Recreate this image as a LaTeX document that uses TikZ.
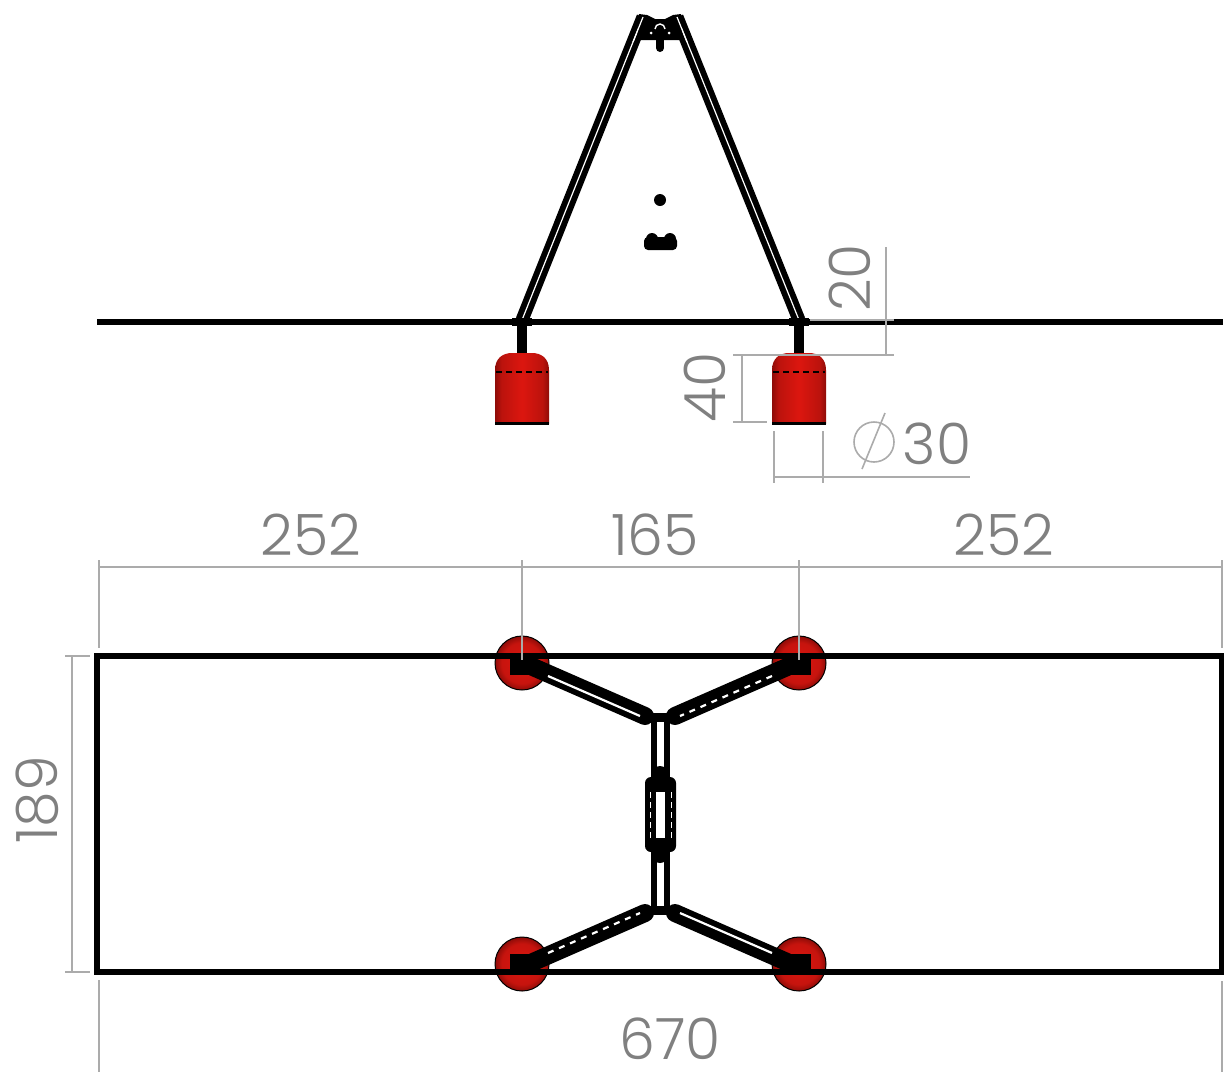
\documentclass[tikz,border=0pt]{standalone}
\usepackage{fontspec}
\setmainfont{Poppins Light}
\definecolor{dimgray}{HTML}{ABABAB}
\definecolor{dimtext}{HTML}{808080}
\definecolor{floatred}{HTML}{DC160F}
\definecolor{floatdark}{HTML}{8E0C08}
\pgfdeclarehorizontalshading{floatbody}{100bp}{color(0bp)=(floatdark); color(25bp)=(floatdark); color(31bp)=(floatred!85!black); color(50bp)=(floatred); color(69bp)=(floatred!85!black); color(75bp)=(floatdark); color(100bp)=(floatdark)}
\pgfdeclareradialshading{floatglobe}{\pgfpoint{0bp}{0bp}}{color(0bp)=(floatred); color(19bp)=(floatred!90!black); color(25bp)=(floatdark); color(50bp)=(floatdark)}
\tikzset{
  dimline/.style={draw=dimgray, line width=0.8pt},
  dimlabel/.style={text=dimtext, inner sep=0pt, font=\fontsize{28.5}{28.5}\selectfont},
  wireline/.style={draw=black, line width=2.8pt},
  tubeouter/.style={draw=black, line width=6.5pt},
  tubeinner/.style={draw=white, line width=0.6pt},
  armouter/.style={draw=black, line width=9pt},
  arminner/.style={draw=white, line width=1.1pt},
  floatbarrel/.style={shading=floatbody},
  floatball/.style={shading=floatglobe, draw=black, line width=0.5pt},
}
\begin{document}
\begin{tikzpicture}[x=0.5pt, y=-0.5pt]
    \useasboundingbox (0,0) rectangle (1224,1072);

    % front view
    \draw [wireline] (97,322) -- (1223,322);
    \draw [dimline] (810,320) -- (894,320);
    \draw [tubeouter] (522,320) -- (643,17);
    \draw [tubeinner] (522,320) -- (643,17);
    \draw [tubeouter] (799,320) -- (677,17);
    \draw [tubeinner] (799,320) -- (677,17);
    \fill [black] (639,14) -- (647,15) -- (655,19) -- (665,19) -- (673,15) -- (681,14) -- (683,40) -- (637,40) -- cycle;
    \draw [tubeinner] (643,17) -- (633,42);
    \draw [tubeinner] (677,17) -- (687,42);
    \draw [black, line width=4pt, line cap=round] (660,30) -- (660,48);
    \draw [white, line width=0.7pt] (655,29) arc (180:360:5);
    \fill [white] (651,33) circle (1.5);
    \fill [white] (669,33) circle (1.5);
    \fill [black] (660,200) circle (6);
    \fill [black, rounded corners=2pt] (644,237) rectangle (677,250);
    \fill [black] (652,239) circle (6);
    \fill [black] (670,239) circle (6);

    % stems and floats
    \fill [black] (512,318) rectangle (532,326);
    \fill [black] (789,318) rectangle (809,326);
    \draw [black, line width=5pt] (522,322) -- (522,354);
    \draw [black, line width=5pt] (799,322) -- (799,354);
    \shade [floatbarrel] (495,424) -- (495,370) .. controls (495,358) and (503,353) .. (512,353) -- (532,353) .. controls (541,353) and (549,358) .. (549,370) -- (549,424) -- cycle;
    \shade [floatbarrel] (772,424) -- (772,370) .. controls (772,358) and (780,353) .. (789,353) -- (809,353) .. controls (818,353) and (826,358) .. (826,370) -- (826,424) -- cycle;
    \draw [black, line width=1.4pt, densely dashed] (496,372) -- (548,372);
    \draw [black, line width=1.4pt, densely dashed] (773,372) -- (825,372);
    \draw [black, line width=1.6pt] (495,423.5) -- (549,423.5);
    \draw [black, line width=1.6pt] (772,423.5) -- (826,423.5);

    % front view dimensions
    \draw [dimline] (886,247) -- (886,355);
    \draw [dimline] (733,355) -- (894,355);
    \draw [dimline] (742,355) -- (742,422);
    \draw [dimline] (733,422) -- (767,422);
    \draw [dimline] (774,431) -- (774,483);
    \draw [dimline] (823,431) -- (823,483);
    \draw [dimline] (774,477) -- (970,477);
    \draw [dimline] (874,442) circle (20);
    \draw [dimline] (862,469) -- (885,413);
    \node [dimlabel, rotate=90] (labelTwenty) at (850,278) {20};
    \node [dimlabel, rotate=90] (labelForty) at (705,387) {40};
    \node [dimlabel] (labelThirty) at (937,444) {30};

    % top view
    \draw [wireline] (97,656) rectangle (1222,972);
    \path [floatball] (522,663) circle (27);
    \path [floatball] (799,663) circle (27);
    \path [floatball] (522,964) circle (27);
    \path [floatball] (799,964) circle (27);
    \draw [wireline] (495,656) -- (549,656);
    \draw [wireline] (772,656) -- (826,656);
    \draw [wireline] (495,972) -- (549,972);
    \draw [wireline] (772,972) -- (826,972);
    \fill [black] (510,656) rectangle (534,675);
    \fill [black] (787,656) rectangle (811,675);
    \fill [black] (510,954) rectangle (534,972);
    \fill [black] (787,954) rectangle (811,972);
    \draw [armouter, line cap=round] (533,667) -- (645,716);
    \draw [arminner] (548,676) -- (640,716);
    \draw [armouter, line cap=round] (787,667) -- (675,716);
    \draw [arminner, dashed] (772,676) -- (680,716);
    \draw [armouter, line cap=round] (533,962) -- (645,913);
    \draw [arminner, dashed] (548,953) -- (640,913);
    \draw [armouter, line cap=round] (787,962) -- (675,913);
    \draw [arminner] (772,953) -- (680,913);

    % centre beam
    \draw [black, line width=2.8pt, fill=white] (654,718) rectangle (667,911);
    \fill [black] (650,713) rectangle (671,722);
    \fill [black] (650,906) rectangle (671,915);
    \fill [black] (660,774) circle (8);
    \fill [black] (660,855) circle (8);
    \fill [black, rounded corners=3pt] (645,777) rectangle (676,852);
    \draw [white, line width=0.25pt, densely dashed] (650,792) -- (650,838);
    \draw [white, line width=0.25pt, densely dashed] (671,792) -- (671,838);
    \fill [white] (656,792) rectangle (665,838);

    % top view dimensions
    \draw [dimline] (99,560) -- (99,648);
    \draw [dimline] (522,560) -- (522,660);
    \draw [dimline] (799,560) -- (799,660);
    \draw [dimline] (1222,560) -- (1222,648);
    \draw [dimline] (99,567) -- (1222,567);
    \draw [dimline] (65,656) -- (90,656);
    \draw [dimline] (65,972) -- (90,972);
    \draw [dimline] (72,656) -- (72,972);
    \draw [dimline] (99,980) -- (99,1072);
    \draw [dimline] (1222,981) -- (1222,1072);
    \node [dimlabel] (labelLeft) at (311,535) {252};
    \node [dimlabel] (labelMid) at (655,535) {165};
    \node [dimlabel] (labelRight) at (1004,535) {252};
    \node [dimlabel, rotate=90] (labelDepth) at (37,800) {189};
    \node [dimlabel] (labelWidth) at (670,1039) {670};
\end{tikzpicture}
\end{document}
